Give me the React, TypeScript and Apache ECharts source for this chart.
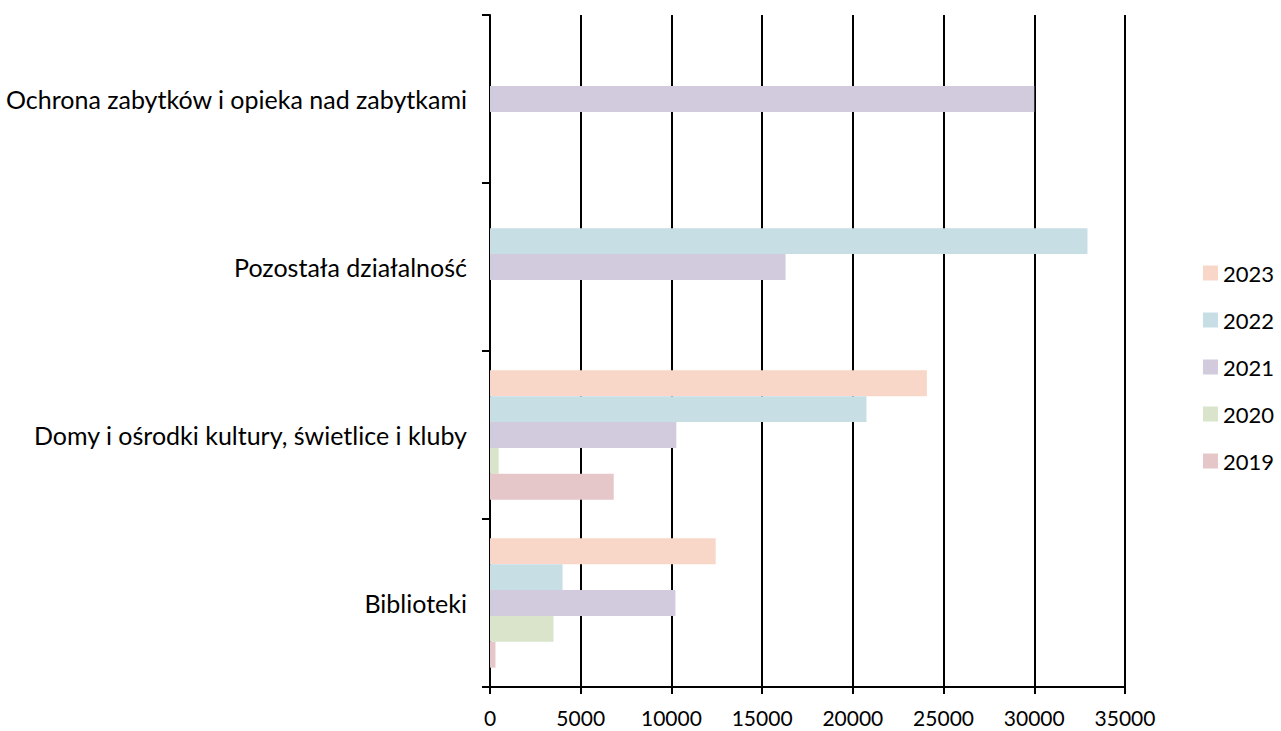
import React, { useEffect, useRef } from "react";
import * as echarts from "echarts";

const categories = [
  "Biblioteki",
  "Domy i ośrodki kultury, świetlice i kluby",
  "Pozostała działalność",
  "Ochrona zabytków i opieka nad zabytkami",
];
const years = ["2023", "2022", "2021", "2020", "2019"];
const values2023 = [12440, 24080, 0, 0];
const values2022 = [4000, 20750, 32930, 0];
const values2021 = [10220, 10270, 16290, 30000];
const values2020 = [3500, 475, 0, 0];
const values2019 = [300, 6820, 0, 0];
const seriesValues = [values2023, values2022, values2021, values2020, values2019];
const colors = ["#F9D7C8", "#C7DEE4", "#D2CADD", "#D9E4CB", "#E6C7C9"];
const xTicks = { min: 0, max: 35000, interval: 5000 };

export default function App() {
  const ref = useRef<HTMLDivElement>(null);
  useEffect(() => {
    const chart = echarts.init(ref.current!, null, { renderer: "svg" });
    const font = "Lato, 'Open Sans', sans-serif";
    chart.setOption({
      animation: false,
      textStyle: { fontFamily: font },
      grid: { left: 490, right: 156, top: 15, bottom: 44, containLabel: false },
      legend: {
        orient: "vertical",
        right: 2,
        top: 257,
        itemWidth: 15,
        itemHeight: 15,
        itemGap: 25,
        icon: "rect",
        data: years,
        textStyle: { fontSize: 22, color: "#000", fontFamily: font },
      },
      xAxis: {
        type: "value",
        min: xTicks.min,
        max: xTicks.max,
        interval: xTicks.interval,
        axisLine: { show: true, lineStyle: { color: "#000", width: 2 } },
        axisTick: { show: true, length: 7, lineStyle: { color: "#000", width: 2 } },
        axisLabel: {
          fontSize: 21,
          color: "#000",
          margin: 20,
          fontFamily: font,
          formatter: (v: number) => String(v),
        },
        splitLine: { show: true, lineStyle: { color: "#000", width: 2 } },
      },
      yAxis: {
        type: "category",
        data: categories,
        axisLine: { show: true, lineStyle: { color: "#000", width: 2 } },
        axisTick: { show: true, length: 8, lineStyle: { color: "#000", width: 2 } },
        axisLabel: { fontSize: 25, color: "#000", margin: 23, fontFamily: font },
      },
      series: years.map((y, i) => ({
        name: y,
        type: "bar",
        data: seriesValues[i].map((v) => (v === 0 ? null : v)),
        itemStyle: { color: colors[i] },
        barGap: "0%",
        barCategoryGap: "23%",
      })),
    });
    return () => chart.dispose();
  }, []);
  return (
    <div
      ref={ref}
      style={{ position: "absolute", left: 0, top: 0, width: 1281, height: 731 }}
    />
  );
}
